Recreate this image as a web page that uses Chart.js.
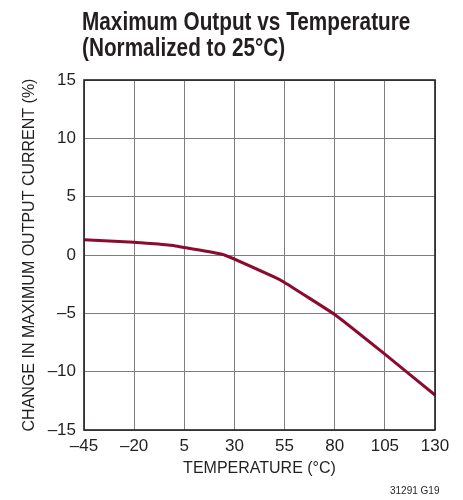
<!DOCTYPE html>
<html>
<head>
<meta charset="utf-8">
<script src="https://cdn.jsdelivr.net/npm/chart.js@4/dist/chart.umd.min.js"></script>
<style>
  body { margin: 0; background: #fff; }
  #wrap { position: relative; width: 463px; height: 500px; }
  #titre {
    position: absolute; left: 82px; top: 8px;
    font-family: "Liberation Sans", Arial, sans-serif;
    font-weight: bold; font-size: 25px; line-height: 26px; color: #231f20;
    white-space: nowrap; transform-origin: 0 0;
  }
  #note {
    position: absolute; left: 390px; top: 485px;
    font-family: "Liberation Sans", Arial, sans-serif;
    font-size: 10px; color: #231f20; white-space: nowrap;
  }
  canvas { position: absolute; left: 0; top: 0; }
</style>
</head>
<body>
<div id="wrap">
  <canvas id="myChart" width="463" height="500"></canvas>
  <div id="titre">Maximum Output vs Temperature<br>(Normalized to 25°C)</div>
  <div id="note">31291 G19</div>
</div>
<script>
// donnees
const temperatures = [-45, -20, 0, 25, 50, 55, 80, 105, 130]
const variation = [1.3, 1.1, 0.8, 0, -1.9, -2.35, -5.1, -8.5, -12.0]

const xTicks = [-45, -20, 5, 30, 55, 80, 105, 130]
const xLabels = ["–45", "–20", "5", "30", "55", "80", "105", "130"]
const yTicks = [-15, -10, -5, 0, 5, 10, 15]
const yLabels = ["–15", "–10", "–5", "0", "5", "10", "15"]

const police = "'Liberation Sans', Arial, sans-serif"

// titre condense comme l'original (police etroite absente)
const titre = document.querySelector("#titre")
titre.style.transform = `scaleX(${328 / titre.offsetWidth})`

// cadre noir autour de la zone du graphe
const cadre = {
    id: "cadre",
    afterDraw(chart) {
        const a = chart.chartArea
        const ctx = chart.ctx
        ctx.save()
        ctx.strokeStyle = "#231f20"
        ctx.lineWidth = 1.6
        ctx.strokeRect(a.left, a.top, a.right - a.left, a.bottom - a.top)
        ctx.restore()
    }
}

const data = {
    datasets: [{
        data: temperatures.map((t, i) => ({ x: t, y: variation[i] })),
        borderColor: "#8c0a2e",
        borderWidth: 3,
        pointRadius: 0,
        tension: 0.08,
        fill: false
    }]
}

const config = {
    type: "line",
    data: data,
    options: {
        responsive: false,
        animation: false,
        layout: { padding: { left: 20, top: 80, right: 28, bottom: 22 } },
        plugins: { legend: { display: false }, tooltip: { enabled: false } },
        scales: {
            x: {
                type: "linear",
                min: -45,
                max: 130,
                afterBuildTicks: s => { s.ticks = xTicks.map(v => ({ value: v })) },
                afterFit: s => { s.height = 48 },
                ticks: {
                    callback: v => xLabels[xTicks.indexOf(v)],
                    color: "#231f20",
                    font: { family: police, size: 17 },
                    padding: 6,
                    maxRotation: 0
                },
                grid: { color: "#7d7d7d", lineWidth: 1, drawTicks: false },
                border: { display: false },
                title: {
                    display: true,
                    text: "TEMPERATURE (°C)",
                    color: "#231f20",
                    font: { family: police, size: 16 },
                    padding: { top: 0, bottom: 0 }
                }
            },
            y: {
                min: -15,
                max: 15,
                afterBuildTicks: s => { s.ticks = yTicks.map(v => ({ value: v })) },
                afterFit: s => { s.width = 64 },
                ticks: {
                    callback: v => yLabels[yTicks.indexOf(v)],
                    color: "#231f20",
                    font: { family: police, size: 17 },
                    padding: 8
                },
                grid: { color: "#7d7d7d", lineWidth: 1, drawTicks: false },
                border: { display: false },
                title: {
                    display: true,
                    text: "CHANGE IN MAXIMUM OUTPUT CURRENT (%)",
                    color: "#231f20",
                    font: { family: police, size: 16 },
                    padding: { top: 0, bottom: 0 }
                }
            }
        }
    },
    plugins: [cadre]
}

new Chart(document.querySelector("#myChart"), config)
</script>
</body>
</html>
